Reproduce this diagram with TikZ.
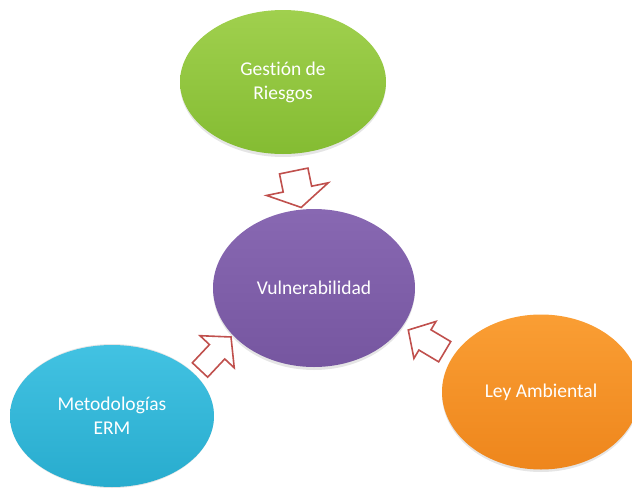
\documentclass[tikz,border=0pt]{standalone}
\usepackage{fontspec}
\setmainfont{Carlito}[Ligatures=NoCommon]
\usetikzlibrary{shapes.geometric}
\begin{document}
\begin{tikzpicture}[x=1pt,y=-1pt,
  bubble/.style={ellipse, inner sep=0pt, text=white, align=center,
    font=\fontsize{19.5}{24}\selectfont},
  blockarrow/.style={draw=arrowred, line width=1.6pt, fill=white, line join=miter},
  shadowell/.style={fill=black, opacity=0.10}]
\definecolor{arrowred}{RGB}{192,80,77}
\definecolor{gtop}{RGB}{160,208,78}
\definecolor{gbot}{RGB}{132,188,50}
\definecolor{ptop}{RGB}{136,104,178}
\definecolor{pbot}{RGB}{118,86,160}
\definecolor{ctop}{RGB}{66,194,226}
\definecolor{cbot}{RGB}{40,172,206}
\definecolor{otop}{RGB}{250,158,52}
\definecolor{obot}{RGB}{238,134,28}
\useasboundingbox (0,0) rectangle (632,498);
\clip (0,0) rectangle (632,498);
% shadows
\fill[shadowell] (283,84) ellipse [x radius=103, y radius=73];
\fill[shadowell] (314,290) ellipse [x radius=101, y radius=80];
\fill[shadowell] (112,416) ellipse [x radius=102, y radius=72];
\fill[shadowell] (541,394) ellipse [x radius=99, y radius=78];
% ellipses
\node[bubble, minimum width=206pt, minimum height=144pt, top color=gtop, bottom color=gbot] (gest) at (283,82) {Gestión de\\Riesgos};
\node[bubble, minimum width=202pt, minimum height=158pt, top color=ptop, bottom color=pbot] (vul) at (314,288) {Vulnerabilidad};
\node[bubble, minimum width=204pt, minimum height=142pt, top color=ctop, bottom color=cbot] (erm) at (112,416) {Metodologías\\ERM};
\node[bubble, minimum width=198pt, minimum height=155pt, top color=otop, bottom color=obot] (ley) at (541,392) {Ley Ambiental};
% block arrows
\begin{scope}[shift={(293.7,171)}, rotate=-78.4]
  \draw[blockarrow] (0,-14.5) -- (18.5,-14.5) -- (18.5,-31.5) -- (37.2,0) -- (18.5,31.5) -- (18.5,14.5) -- (0,14.5) -- cycle;
\end{scope}
\begin{scope}[shift={(200,370)}, rotate=46.8]
  \draw[blockarrow] (0,-10.5) -- (25,-10.5) -- (25,-23.5) -- (45.3,0) -- (25,23.5) -- (25,10.5) -- (0,10.5) -- cycle;
\end{scope}
\begin{scope}[shift={(444.7,351.7)}, rotate=149.2]
  \draw[blockarrow] (0,-11.8) -- (23,-11.8) -- (23,-21.5) -- (42.4,0) -- (23,21.5) -- (23,11.8) -- (0,11.8) -- cycle;
\end{scope}
\end{tikzpicture}
\end{document}
